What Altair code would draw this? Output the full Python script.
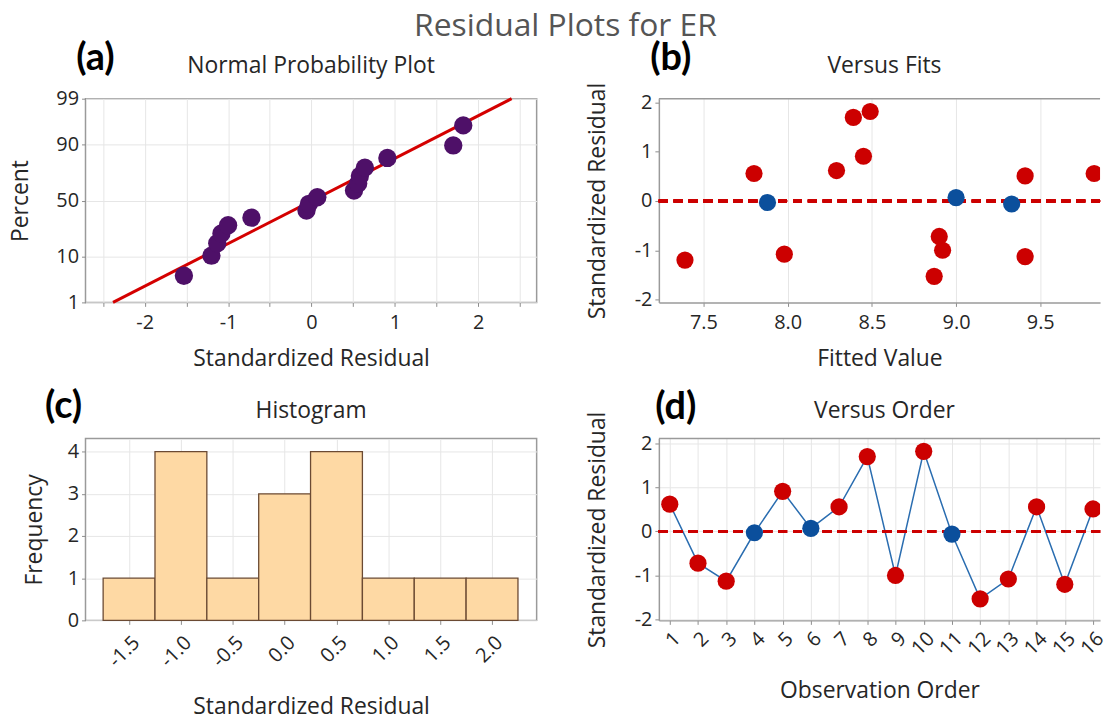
import altair as alt
import pandas as pd
from statistics import NormalDist

nd = NormalDist()

# ---------------- data ----------------
# (a) Normal probability plot: sorted standardized residuals and plotting percent
npp_resid = [-1.53, -1.20, -1.13, -1.08, -1.00, -0.72, -0.06, -0.03, 0.07, 0.51, 0.56, 0.58, 0.64, 0.91, 1.70, 1.82]
npp_pct = [4.3, 10.4, 16.5, 22.6, 28.7, 34.8, 40.9, 47.0, 53.0, 59.1, 65.2, 71.3, 77.4, 83.5, 89.6, 95.7]
fit_line_x = [-2.38, 2.40]
fit_line_pct = [1, 99]
pct_ticks = [1, 10, 50, 90, 99]

# (b)/(d) observations in run order
obs_order = list(range(1, 17))
obs_resid = [0.62, -0.72, -1.13, -0.03, 0.91, 0.07, 0.56, 1.70, -1.00, 1.82, -0.06, -1.53, -1.08, 0.56, -1.20, 0.51]
obs_fit = [8.29, 8.90, 9.41, 7.88, 8.45, 9.00, 7.80, 8.39, 8.92, 8.49, 9.33, 8.87, 7.98, 9.82, 7.39, 9.41]
obs_group = ["r", "r", "r", "b", "r", "b", "r", "r", "r", "r", "b", "r", "r", "r", "r", "r"]

# (c) histogram
bin_centers = [-1.5, -1.0, -0.5, 0.0, 0.5, 1.0, 1.5, 2.0]
bin_counts = [1, 4, 1, 3, 4, 1, 1, 1]
bin_width = 0.5

# ---------------- styling ----------------
FONT = "Open Sans"
TXT = "#262626"
FRAME = "#9a9a9a"
PURPLE = "#4e1068"
RED = "#cc0000"
BLUE = "#0b4f9c"
MINUS = "replace(datum.label, '\u2212', '-')"

W1, W2, H1, H2 = 454, 444, 205, 183

def axis(**kw):
    base = dict(labelFont=FONT, labelFontSize=20, labelColor=TXT, titleFont=FONT,
                titleFontSize=23, titleFontWeight="normal", titleColor=TXT,
                domain=False, tickColor="#8c8c8c", tickSize=4, labelPadding=3,
                gridColor="#e6e6e6", gridWidth=1, minExtent=30, maxExtent=30,
                labelOverlap=False)
    base.update(kw)
    return alt.Axis(**base)

def label_text(label, dx, dy, font, size, weight, color):
    return alt.Chart(pd.DataFrame({"t": [label]})).mark_text(
        font=font, fontSize=size, fontWeight=weight, color=color,
        align="center", baseline="middle").encode(
        text="t:N", x=alt.value(dx), y=alt.value(dy))

def tag(label, dx, dy):
    return label_text(label, dx, dy, "Lato", 38, "bold", "black")

def ptitle(label, w, dy):
    return label_text(label, w / 2, dy, FONT, 23, "normal", TXT)

def top_edge(w):
    # upper frame line of a right-hand panel (its right side runs off the page)
    return alt.Chart(pd.DataFrame({"t": [0]})).mark_rule(color=FRAME, strokeWidth=1.5).encode(
        x=alt.value(0), x2=alt.value(w), y=alt.value(0))

color_enc = alt.Color("grp:N", scale=alt.Scale(domain=["r", "b"], range=[RED, BLUE]), legend=None)
open_view = alt.ViewBackground(stroke="transparent")
edge = dict(domain=True, domainColor=FRAME, domainWidth=1.5)

# ---------------- (a) ----------------
df_a = pd.DataFrame({"resid": npp_resid, "pct": npp_pct})
df_a["z"] = [nd.inv_cdf(p / 100) for p in npp_pct]
df_line = pd.DataFrame({"resid": fit_line_x, "pct": fit_line_pct})
df_line["z"] = [nd.inv_cdf(p / 100) for p in fit_line_pct]
z_ticks = [nd.inv_cdf(p / 100) for p in pct_ticks]
pct_expr = "".join(f"abs(datum.value - ({z:.6f})) < 0.001 ? '{p}' : " for z, p in zip(z_ticks, pct_ticks)) + "''"

xa = alt.X("resid:Q", scale=alt.Scale(domain=[-2.71, 2.70], nice=False, zero=False),
           axis=axis(values=[-2.5, -2, -1.5, -1, -0.5, 0, 0.5, 1, 1.5, 2, 2.5],
                     labelExpr="abs(datum.value - round(datum.value)) < 0.01 ? '' + round(datum.value) : ''",
                     labelPadding=6, title="Standardized Residual", titlePadding=16))
ya = alt.Y("z:Q", scale=alt.Scale(domain=[z_ticks[0], z_ticks[-1]], nice=False, zero=False),
           axis=axis(values=z_ticks, labelExpr=pct_expr, title="Percent", titlePadding=23))

pa = alt.layer(
    alt.Chart(df_line).mark_line(color="#d40000", strokeWidth=3).encode(x=xa, y=ya),
    alt.Chart(df_a).mark_circle(size=340, color=PURPLE, opacity=1).encode(x=xa, y=ya),
    tag("(a)", 10, -40),
    ptitle("Normal Probability Plot", W1, -33),
).properties(width=W1, height=H1)

# ---------------- (b) ----------------
df_obs = pd.DataFrame({"order": obs_order, "resid": obs_resid, "fit": obs_fit, "grp": obs_group})

xb = alt.X("fit:Q", scale=alt.Scale(domain=[7.235, 9.855], nice=False, zero=False),
           axis=axis(values=[7.5, 8.0, 8.5, 9.0, 9.5], format=".1f", labelPadding=6,
                     title="Fitted Value", titlePadding=16, **edge))
yb = alt.Y("resid:Q", scale=alt.Scale(domain=[-2.06, 2.08], nice=False, zero=False),
           axis=axis(values=[-2, -1, 0, 1, 2], format="d", labelExpr=MINUS,
                     title="Standardized Residual", titlePadding=20, **edge))

pb = alt.layer(
    alt.Chart(df_obs).mark_rule(color=RED, strokeWidth=3, strokeDash=[9, 6]).encode(y=alt.datum(0)),
    alt.Chart(df_obs).mark_circle(size=300, opacity=1, clip=True).encode(x=xb, y=yb, color=color_enc),
    top_edge(W2),
    tag("(b)", 12, -40),
    ptitle("Versus Fits", W1, -33),
).properties(width=W2, height=H1, view=open_view)

# ---------------- (c) ----------------
df_c = pd.DataFrame({"center": bin_centers, "count": bin_counts})
xc = alt.X("lo:Q", scale=alt.Scale(domain=[-1.92, 2.43], nice=False, zero=False),
           axis=axis(values=bin_centers, format=".1f", labelExpr=MINUS, labelAngle=-45,
                     labelPadding=8, title="Standardized Residual", titlePadding=46))
yc = alt.Y("count:Q", scale=alt.Scale(domain=[0, 4.31], nice=False, zero=True),
           axis=axis(values=[0, 1, 2, 3, 4], format="d", title="Frequency", titlePadding=9))

pc = alt.layer(
    alt.Chart(df_c).transform_calculate(
        lo=f"datum.center - {bin_width}/2", hi=f"datum.center + {bin_width}/2"
    ).mark_bar(fill="#fed9a4", stroke="#6b4a33", strokeWidth=1.3, opacity=1).encode(
        x=xc, x2="hi:Q", y=yc, y2=alt.datum(0)),
    tag("(c)", -22, -32),
    ptitle("Histogram", W1, -28),
).properties(width=W1, height=H2)

# ---------------- (d) ----------------
xd = alt.X("order:Q", scale=alt.Scale(domain=[0.613, 16.25], nice=False, zero=False),
           axis=axis(values=obs_order, format="d", labelAngle=-45, labelPadding=4,
                     title="Observation Order", titlePadding=30, **edge))
yd = alt.Y("resid:Q", scale=alt.Scale(domain=[-2.02, 2.11], nice=False, zero=False),
           axis=axis(values=[-2, -1, 0, 1, 2], format="d", labelExpr=MINUS,
                     title="Standardized Residual", titlePadding=20, **edge))

pd_ = alt.layer(
    alt.Chart(df_obs).mark_line(color="#2a6db0", strokeWidth=1.5, clip=True).encode(
        x=xd, y=yd, order="order:Q"),
    alt.Chart(df_obs).mark_rule(color=RED, strokeWidth=3, strokeDash=[9, 6]).encode(y=alt.datum(0)),
    alt.Chart(df_obs).mark_circle(size=300, opacity=1, clip=True).encode(x=xd, y=yd, color=color_enc),
    top_edge(W2),
    tag("(d)", 17, -31),
    ptitle("Versus Order", W1, -28),
).properties(width=W2, height=H2, view=open_view)

chart = alt.concat(
    pa, pb, pc, pd_, columns=2, spacing={"row": 137, "column": 123}, bounds="flush"
).properties(
    title=alt.TitleParams("Residual Plots for ER", font=FONT, fontSize=32, fontWeight="normal",
                          color="#555555", anchor="middle", offset=-4, dx=7),
    padding={"left": 1, "top": 0, "right": 0, "bottom": 0},
    background="white",
).configure_view(stroke=FRAME, strokeWidth=1.5)

chart.save("out.html", embed_options={"renderer": "svg", "actions": False})
